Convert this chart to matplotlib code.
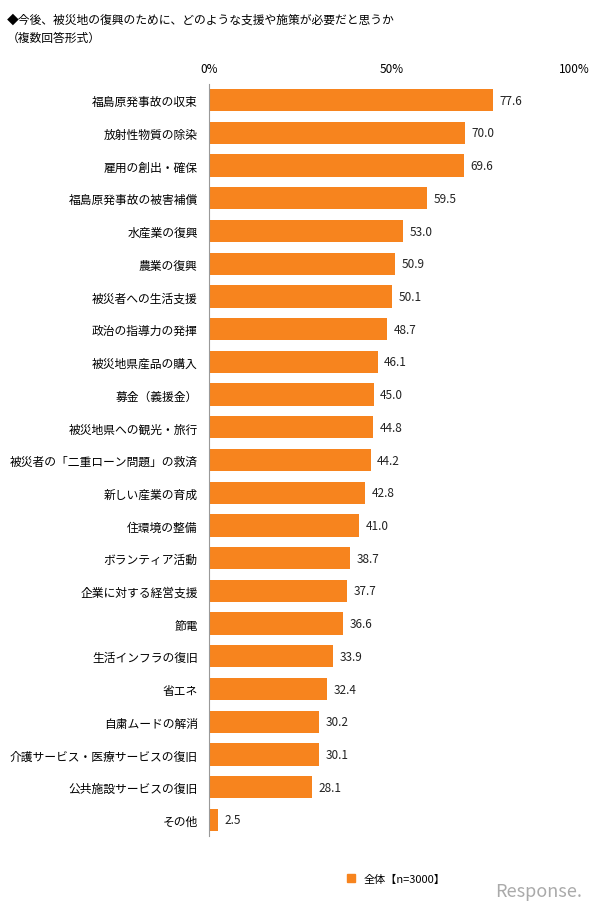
import matplotlib
matplotlib.use("Agg")
import matplotlib.pyplot as plt
from matplotlib.patches import Patch

plt.rcParams["font.family"] = "Noto Sans CJK JP"

categories = ["福島原発事故の収束","放射性物質の除染","雇用の創出・確保","福島原発事故の被害補償",
"水産業の復興","農業の復興","被災者への生活支援","政治の指導力の発揮","被災地県産品の購入",
"募金（義援金）","被災地県への観光・旅行","被災者の「二重ローン問題」の救済","新しい産業の育成",
"住環境の整備","ボランティア活動","企業に対する経営支援","節電","生活インフラの復旧","省エネ",
"自粛ムードの解消","介護サービス・医療サービスの復旧","公共施設サービスの復旧","その他"]
values = [77.6,70.0,69.6,59.5,53.0,50.9,50.1,48.7,46.1,45.0,44.8,44.2,42.8,41.0,38.7,37.7,36.6,33.9,32.4,30.2,30.1,28.1,2.5]
ticks = [0,50,100]
tick_labels = ["0%","50%","100%"]

fig = plt.figure(figsize=(6,9.12), dpi=100)
ax = fig.add_axes([0.348, 0.082, 0.61, 0.825])
color = "#F7841E"
y = list(range(len(categories)))
ax.barh(y, values, height=0.68, color=color, zorder=2)
ax.set_ylim(len(categories)-0.5, -0.5)
ax.set_xlim(0,100)
for yi, v in zip(y, values):
    ax.text(v+1.8, yi, f"{v:.1f}", va="center", ha="left", fontsize=8.5, color="#222")
ax.set_yticks(y)
ax.set_yticklabels(categories, fontsize=8.5)
ax.xaxis.tick_top()
ax.set_xticks(ticks)
ax.set_xticklabels(tick_labels, fontsize=8.5)
ax.tick_params(axis="both", length=0, pad=6)
ax.tick_params(axis="y", pad=8)
for s in ["top","right","bottom"]:
    ax.spines[s].set_visible(False)
ax.spines["left"].set_color("#999")

fig.text(0.012, 0.985, "◆今後、被災地の復興のために、どのような支援や施策が必要だと思うか", fontsize=8.5, va="top")
fig.text(0.012, 0.965, "（複数回答形式）", fontsize=8.5, va="top")
fig.legend(handles=[Patch(color=color)], labels=["全体【n=3000】"], loc="center",
           bbox_to_anchor=(0.66, 0.035), frameon=False, fontsize=8, handlelength=0.7, handleheight=0.7)
fig.text(0.97, 0.012, "Response.", fontsize=13, color="#aaa", ha="right", va="bottom", style="italic")
fig.savefig("out.png", dpi=100)
